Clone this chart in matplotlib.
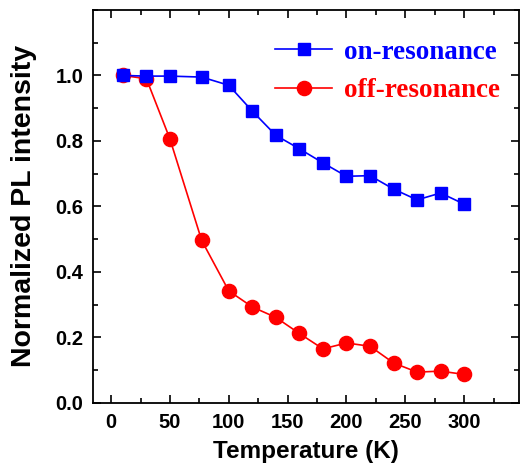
import matplotlib
matplotlib.use("Agg")
import matplotlib.pyplot as plt
from matplotlib.ticker import MultipleLocator

# Temperature (K) and normalized PL intensity
temp = [10, 30, 50, 77, 100, 120, 140, 160, 180, 200, 220, 240, 260, 280, 300]
on_res = [1.000, 0.998, 0.998, 0.995, 0.970, 0.891, 0.817, 0.776, 0.733,
          0.692, 0.694, 0.653, 0.620, 0.641, 0.607]
off_res = [1.000, 0.990, 0.806, 0.496, 0.342, 0.293, 0.261, 0.212, 0.165,
           0.183, 0.173, 0.122, 0.094, 0.097, 0.087]

plt.rcParams["font.family"] = ["Liberation Sans", "DejaVu Sans"]
plt.rcParams["font.weight"] = "bold"

fig = plt.figure(figsize=(5.2, 4.74), dpi=100)
ax = fig.add_axes([0.179, 0.150, 0.820, 0.829])

# red drawn first so the blue squares sit on top, as in the original
l_off, = ax.plot(temp, off_res, color="#ff0000", marker="o", ms=10.2, lw=1.2,
                 label="off-resonance", zorder=2)
l_on, = ax.plot(temp, on_res, color="#0000ff", marker="s", ms=9, lw=1.2,
                label="on-resonance", zorder=3)

ax.set_xlim(-15.3, 347)
ax.set_ylim(0, 1.2)
ax.xaxis.set_minor_locator(MultipleLocator(25))
ax.yaxis.set_minor_locator(MultipleLocator(0.1))
ax.set_xticks(range(0, 301, 50))
ax.set_yticks([0.0, 0.2, 0.4, 0.6, 0.8, 1.0])
ax.set_yticklabels(["0.0", "0.2", "0.4", "0.6", "0.8", "1.0"])

ax.tick_params(which="both", direction="in", top=True, right=True,
               width=1.2, labelsize=14.5, pad=7)
ax.tick_params(which="major", length=6)
ax.tick_params(which="minor", length=3.5)
for lab in ax.get_xticklabels() + ax.get_yticklabels():
    lab.set_fontweight("bold")
for sp in ax.spines.values():
    sp.set_linewidth(1.3)

ax.set_xlabel("Temperature (K)", fontsize=17.5, fontweight="bold", labelpad=6)
ax.set_ylabel("Normalized PL intensity", fontsize=20.5, fontweight="bold",
              labelpad=13)

ax.legend([l_on, l_off], ["on-resonance", "off-resonance"],
          loc="upper right", bbox_to_anchor=(0.993, 0.965), frameon=False,
          prop={"family": "Liberation Serif", "weight": "bold", "size": 19.5},
          labelcolor="linecolor", handlelength=2.1, handletextpad=0.45,
          labelspacing=0.5, borderaxespad=0.2)

fig.savefig("out.png", dpi=100)
